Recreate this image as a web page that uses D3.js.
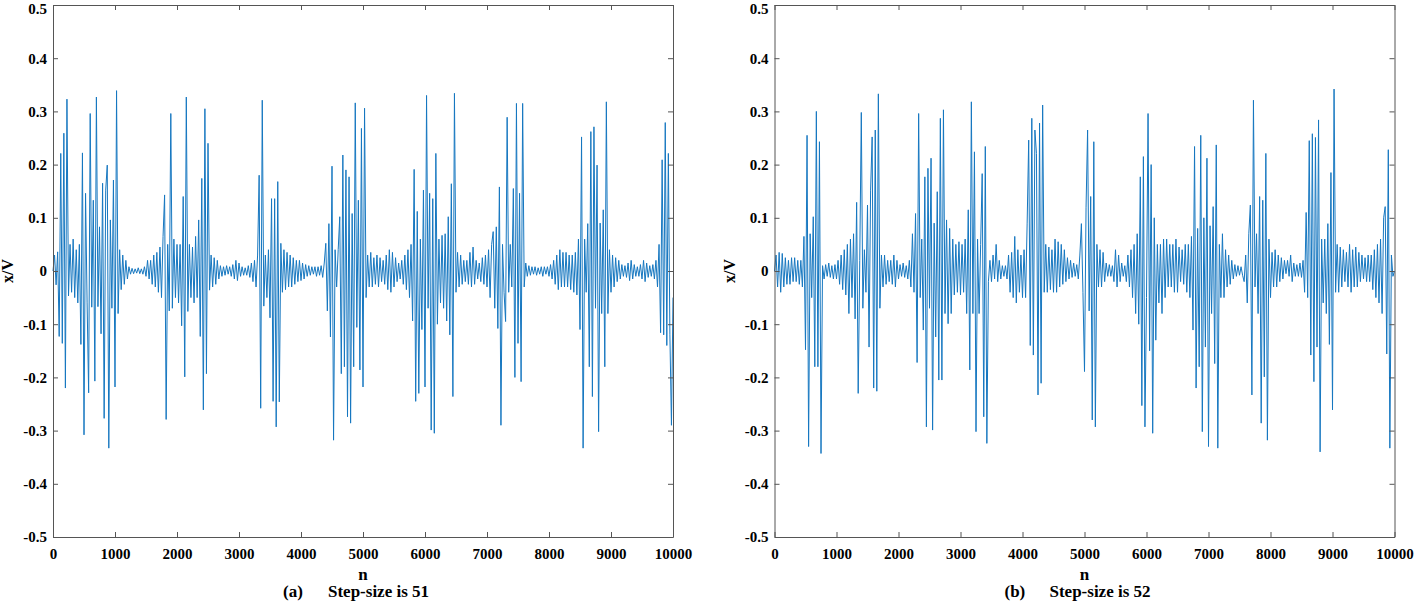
<!DOCTYPE html>
<html>
<head>
<meta charset="utf-8">
<script src="https://cdn.jsdelivr.net/npm/d3@7"></script>
<style>
  body { margin: 0; background: #fff; }
  svg text { font-family: "Liberation Serif", "Times New Roman", serif; font-weight: bold; fill: #000; }
  .tick text { font-size: 15px; }
</style>
</head>
<body>
<div id="graph"></div>
<script>
// sample spacing of the arrays below (n units)
const step = 25;

// (a) step-size 51, one value every 25 samples
const sigA = [
  0, 0.03, -0.026, 0.036, -0.123, 0.221, -0.136, 0.259, -0.22, 0.323,
  -0.047, 0.05, -0.04, 0.06, -0.05, 0.04, -0.06, 0.05, -0.138, 0.222,
  -0.308, 0.146, -0.06, -0.229, 0.296, -0.068, 0.133, -0.207, 0.327, -0.067,
  0.083, -0.118, 0.165, -0.277, 0.152, 0.199, -0.333, 0.096, -0.07, 0.171,
  -0.218, 0.339, -0.08, 0.04, -0.035, 0.03, -0.025, 0.02, -0.015, 0.008,
  -0.006, 0.005, -0.005, 0.004, -0.004, 0.006, -0.005, 0.004, -0.006, 0.008,
  -0.01, 0.02, -0.015, 0.02, -0.025, 0.03, -0.03, 0.035, -0.04, 0.045,
  -0.05, 0.065, 0.143, -0.279, 0.05, -0.075, 0.296, -0.07, 0.06, -0.05,
  0.05, -0.06, 0.05, -0.103, 0.14, -0.199, 0.327, -0.076, 0.05, -0.05,
  0.045, -0.06, 0.065, -0.05, 0.096, -0.123, 0.174, -0.261, 0.305, -0.193,
  0.24, -0.036, 0.03, -0.03, 0.025, -0.025, 0.02, -0.015, 0.01, -0.01,
  0.008, -0.008, 0.01, -0.006, 0.008, -0.01, 0.012, -0.015, 0.02, -0.018,
  0.015, -0.01, 0.008, -0.008, 0.006, -0.008, 0.01, -0.012, 0.015, -0.02,
  0.02, -0.03, 0.03, 0.18, -0.258, 0.321, -0.066, 0.03, -0.05, 0.04,
  -0.088, 0.136, -0.245, 0.136, -0.293, 0.168, -0.246, 0.052, -0.04, 0.04,
  -0.035, 0.035, -0.03, 0.03, -0.03, 0.025, -0.025, 0.02, -0.02, 0.02,
  -0.018, 0.015, -0.015, 0.012, -0.01, 0.01, -0.008, 0.008, -0.006, 0.008,
  -0.01, 0.008, -0.008, 0.01, -0.012, 0.015, 0.052, -0.075, 0.089, -0.124,
  0.197, -0.318, 0.04, -0.03, 0.04, 0.102, -0.193, 0.218, -0.18, 0.19,
  -0.274, 0.177, -0.286, 0.108, -0.18, 0.316, -0.106, 0.133, -0.186, 0.268,
  -0.218, 0.306, -0.05, 0.03, -0.03, 0.035, -0.03, 0.025, -0.025, 0.03,
  -0.03, 0.025, -0.02, 0.02, -0.025, 0.03, -0.035, 0.04, -0.04, 0.035,
  -0.03, 0.025, -0.02, 0.015, -0.015, 0.02, -0.025, 0.03, -0.035, 0.04,
  -0.05, 0.05, -0.094, 0.191, -0.245, 0.112, -0.23, 0.06, -0.11, 0.152,
  -0.218, 0.33, -0.07, 0.146, -0.299, 0.136, -0.305, 0.221, -0.1, 0.06,
  -0.06, 0.067, -0.07, 0.07, -0.094, 0.102, -0.12, 0.164, -0.236, 0.334,
  -0.04, 0.035, -0.03, 0.03, -0.025, 0.02, -0.02, 0.02, -0.025, 0.035,
  -0.03, 0.045, -0.025, 0.02, -0.015, 0.015, -0.02, 0.025, -0.025, 0.03,
  -0.03, 0.04, -0.05, 0.05, 0.074, -0.07, 0.083, -0.108, 0.158, -0.29,
  0.05, -0.04, -0.095, 0.289, -0.04, 0.05, -0.03, 0.155, -0.2, 0.315,
  -0.136, 0.146, -0.208, 0.315, -0.03, 0.015, -0.01, 0.01, -0.008, 0.008,
  -0.006, 0.008, -0.008, 0.006, -0.006, 0.008, -0.01, 0.008, -0.006, 0.008,
  -0.01, 0.012, -0.015, 0.02, -0.025, 0.03, -0.035, 0.04, -0.03, 0.035,
  -0.03, 0.035, -0.03, 0.03, -0.035, 0.03, -0.04, 0.035, -0.045, 0.06,
  -0.11, 0.252, -0.333, 0.06, -0.04, 0.089, -0.18, 0.262, -0.236, 0.271,
  -0.07, 0.199, -0.302, 0.09, -0.08, 0.115, -0.18, 0.318, -0.08, 0.04,
  -0.04, 0.03, -0.03, 0.025, -0.02, 0.02, -0.015, 0.012, -0.01, 0.01,
  -0.012, 0.015, -0.018, 0.02, -0.015, 0.012, -0.01, 0.008, -0.01, 0.012,
  -0.015, 0.02, -0.02, 0.015, -0.012, 0.01, -0.01, 0.012, -0.015, 0.02,
  -0.03, 0.05, -0.116, 0.209, -0.12, 0.279, -0.14, 0.221, -0.12, -0.29,
  -0.05
];

// (b) step-size 52
const sigB = [
  0, 0.03, -0.03, 0.035, -0.04, 0.033, -0.03, 0.025, -0.025, 0.02,
  -0.025, 0.025, -0.02, 0.025, -0.02, 0.02, -0.025, 0.02, -0.03, 0.065,
  -0.148, 0.255, -0.33, 0.07, -0.05, 0.102, -0.18, 0.30, -0.18, 0.243,
  -0.343, 0.01, -0.015, 0.012, -0.01, 0.015, -0.012, 0.01, -0.015, 0.012,
  -0.015, 0.02, -0.025, 0.03, -0.035, 0.04, -0.045, 0.05, -0.08, 0.06,
  -0.05, 0.07, -0.09, 0.129, -0.23, 0.02, 0.298, -0.07, 0.04, -0.04,
  0.124, -0.143, 0.152, 0.252, -0.22, 0.265, -0.226, 0.333, -0.07, 0.03,
  -0.03, 0.03, -0.025, 0.02, -0.02, 0.02, -0.025, 0.03, -0.03, 0.02,
  -0.015, 0.012, -0.01, 0.015, -0.012, 0.01, -0.015, 0.02, -0.03, 0.07,
  -0.04, 0.108, -0.172, 0.296, -0.05, 0.06, -0.111, 0.177, -0.293, 0.193,
  -0.07, 0.212, -0.299, 0.09, -0.124, 0.149, -0.205, 0.287, -0.205, 0.303,
  -0.08, 0.096, -0.099, 0.08, -0.08, 0.06, -0.045, 0.05, -0.04, 0.055,
  -0.045, 0.05, -0.04, 0.06, -0.08, 0.115, -0.186, 0.318, -0.08, 0.224,
  -0.302, 0.06, -0.08, 0.05, 0.183, -0.274, 0.234, -0.324, -0.02, 0.02,
  -0.02, 0.03, -0.015, 0.05, -0.02, 0.02, -0.015, 0.01, -0.01, 0.01,
  -0.015, 0.03, -0.04, 0.035, -0.05, 0.065, -0.06, 0.04, -0.04, 0.03,
  -0.05, 0.04, -0.05, 0.09, 0.246, -0.14, 0.287, -0.158, 0.265, 0.221,
  -0.233, 0.278, -0.211, 0.312, -0.04, 0.05, -0.04, 0.045, -0.035, 0.04,
  -0.04, 0.06, -0.04, 0.055, -0.03, 0.05, -0.025, 0.04, -0.02, 0.025,
  -0.015, 0.02, -0.012, 0.015, -0.01, 0.012, -0.015, 0.03, 0.089, -0.04,
  -0.189, 0.12, 0.265, -0.075, 0.14, -0.28, 0.243, -0.293, 0.05, -0.03,
  0.04, -0.03, 0.035, -0.02, 0.015, -0.01, 0.012, -0.01, 0.01, -0.02,
  0.04, -0.03, 0.03, -0.02, 0.015, -0.01, 0.01, -0.02, 0.03, -0.03,
  0.04, -0.05, 0.05, -0.08, 0.07, -0.1, 0.177, -0.253, 0.215, -0.293,
  -0.05, 0.296, -0.15, 0.2, -0.305, 0.1, -0.13, 0.05, -0.06, 0.05,
  -0.08, 0.06, -0.05, 0.06, -0.03, 0.05, -0.03, 0.05, -0.04, 0.06,
  -0.04, 0.045, -0.02, 0.04, -0.025, 0.05, -0.04, 0.05, -0.05, 0.065,
  -0.111, 0.234, -0.22, 0.08, -0.18, 0.255, -0.302, 0.1, -0.143, 0.212,
  -0.33, 0.085, -0.08, 0.121, -0.174, 0.237, -0.333, 0.05, -0.05, 0.07,
  -0.05, 0.04, -0.03, 0.03, -0.025, 0.02, -0.015, 0.012, -0.01, 0.01,
  -0.008, 0.008, -0.008, -0.02, 0.03, -0.06, 0.07, 0.124, -0.233, 0.321,
  -0.03, 0.07, -0.08, 0.14, -0.286, 0.133, -0.199, 0.221, -0.318, 0.06,
  -0.05, 0.035, -0.03, 0.04, -0.03, 0.03, -0.02, 0.025, -0.015, 0.02,
  -0.005, 0.02, -0.01, 0.03, -0.02, 0.015, -0.01, 0.012, -0.01, 0.015,
  -0.012, 0.02, -0.04, 0.11, -0.05, 0.245, -0.158, 0.258, -0.208, 0.251,
  -0.143, 0.284, -0.34, 0.06, -0.06, 0.06, -0.08, 0.089, -0.138, 0.185,
  -0.261, 0.342, -0.04, 0.05, -0.04, 0.045, -0.03, 0.04, -0.02, 0.035,
  -0.03, 0.05, -0.04, 0.04, -0.03, 0.045, -0.03, 0.035, -0.02, 0.03,
  -0.015, 0.025, -0.02, 0.03, -0.02, 0.03, -0.035, 0.04, -0.05, 0.05,
  -0.06, 0.06, -0.08, 0.1, 0.121, -0.156, 0.228, -0.333, 0.03, -0.01,
  0
];

const xTicks = [0, 1000, 2000, 3000, 4000, 5000, 6000, 7000, 8000, 9000, 10000];
const yTicks = [-0.5, -0.4, -0.3, -0.2, -0.1, 0, 0.1, 0.2, 0.3, 0.4, 0.5];
const tags = ["(a)", "(b)"];
const captions = ["Step-size is 51", "Step-size is 52"];
const signals = [sigA, sigB];

const W = 1416, H = 603;
const plotW = 620, plotTop = 5, plotBottom = 537;
const lefts = [53, 774.5];

const svg = d3.select("#graph")
  .append("svg")
    .attr("width", W)
    .attr("height", H);

signals.forEach(function(sig, k) {
  const g = svg.append("g")
    .attr("transform", "translate(" + lefts[k] + ",0)");

  const x = d3.scaleLinear().domain([0, 10000]).range([0, plotW]);
  const y = d3.scaleLinear().domain([-0.5, 0.5]).range([plotBottom, plotTop]);

  // the signal
  const line = d3.line()
    .x(function(d, i) { return x(i * step); })
    .y(function(d) { return y(d); });

  g.append("path")
    .datum(sig)
    .attr("fill", "none")
    .attr("stroke", "#1677c0")
    .attr("stroke-width", 1)
    .attr("d", line);

  // box axes, ticks pointing inward
  const fmt = function(d) { return String(d); };
  const gx = g.append("g")
    .attr("transform", "translate(0," + plotBottom + ")")
    .call(d3.axisBottom(x).tickValues(xTicks).tickFormat(fmt)
      .tickSizeInner(-5).tickSizeOuter(0).tickPadding(11));
  const gy = g.append("g")
    .call(d3.axisLeft(y).tickValues(yTicks).tickFormat(fmt)
      .tickSizeInner(-5).tickSizeOuter(0).tickPadding(6));
  const gt = g.append("g")
    .attr("transform", "translate(0," + plotTop + ")")
    .call(d3.axisTop(x).tickValues(xTicks).tickFormat("")
      .tickSizeInner(-5).tickSizeOuter(0));
  const gr = g.append("g")
    .attr("transform", "translate(" + plotW + ",0)")
    .call(d3.axisRight(y).tickValues(yTicks).tickFormat("")
      .tickSizeInner(-5).tickSizeOuter(0));

  [gx, gy, gt, gr].forEach(function(a) {
    a.select(".domain").attr("stroke", "#555").attr("stroke-width", 1);
    a.selectAll(".tick line").attr("stroke", "#555");
  });

  // keep the top "0.5" label inside the page
  gy.selectAll(".tick text")
    .filter(function(d) { return d === 0.5; })
    .attr("dy", "0.55em");

  // labels
  g.append("text")
    .attr("x", plotW / 2)
    .attr("y", 580)
    .attr("text-anchor", "middle")
    .style("font-size", "17px")
    .text("n");

  g.append("text")
    .attr("transform", "translate(-40," + y(0) + ") rotate(-90)")
    .attr("text-anchor", "middle")
    .style("font-size", "16px")
    .text("x/V");

  g.append("text")
    .attr("x", 230)
    .attr("y", 597)
    .style("font-size", "17px")
    .text(tags[k]);

  g.append("text")
    .attr("x", 275)
    .attr("y", 597)
    .style("font-size", "17px")
    .text(captions[k]);
});
</script>
</body>
</html>
